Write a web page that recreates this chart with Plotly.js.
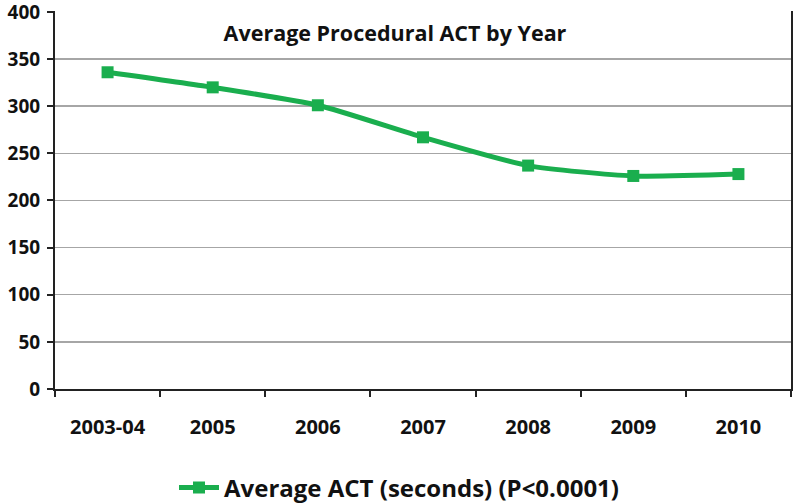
<!DOCTYPE html>
<html>
<head>
<meta charset="utf-8">
<script src="https://cdn.plot.ly/plotly-3.0.1.min.js"></script>
<style>html,body{margin:0;padding:0;background:#fff;}#chart{width:793px;height:503px;}</style>
</head>
<body>
<div id="chart"></div>
<script>
const years = ["2003-04", "2005", "2006", "2007", "2008", "2009", "2010"];
const actSeconds = [336, 320, 301, 267, 237, 226, 228];
const seriesName = "Average ACT (seconds) (P<0.0001)";
const chartTitle = "Average Procedural ACT by Year";
const yTicks = [0, 50, 100, 150, 200, 250, 300, 350, 400];

const green = "#1aae4e";
const trace = {
  x: years,
  y: actSeconds,
  name: seriesName,
  type: "scatter",
  mode: "lines+markers",
  line: {color: green, width: 5, shape: "spline", smoothing: 0.6},
  marker: {symbol: "square", size: 12, color: green},
  showlegend: true
};

const layout = {
  width: 793, height: 503,
  margin: {l: 55, r: 2, t: 11, b: 114},
  paper_bgcolor: "#fff", plot_bgcolor: "#fff",
  font: {family: "Open Sans, sans-serif", color: "#111"},
  title: {text: chartTitle, font: {size: 21.5, family: "Open Sans, sans-serif", color: "#111", weight: 700},
          x: 395/793, xanchor: "center", y: 1 - 33/503, yanchor: "middle", xref: "container", yref: "container"},
  xaxis: {
    type: "category", showgrid: false, showline: true, linecolor: "#222", linewidth: 2,
    ticks: "outside", tickson: "boundaries", ticklen: 6, tickwidth: 2, tickcolor: "#222",
    tickfont: {size: 20, weight: 700, color: "#111"}, ticklabelstandoff: 19,
    range: [-0.5, 6.5], fixedrange: true
  },
  yaxis: {
    range: [0, 401], tickvals: yTicks, showgrid: true, gridcolor: "#a6a6a6", gridwidth: 1.5,
    showline: true, linecolor: "#222", linewidth: 2, mirror: true, zeroline: false,
    ticks: "outside", ticklen: 6, tickwidth: 2, tickcolor: "#222", ticklabeloverflow: "allow",
    tickfont: {size: 19, weight: 700, color: "#111"}, ticklabelstandoff: 3, fixedrange: true
  },
  showlegend: true,
  legend: {orientation: "h", xref: "container", yref: "container", x: 399/793, xanchor: "center",
           y: (503-488)/503, yanchor: "middle", font: {size: 24, weight: 700, color: "#111"},
           itemwidth: 40, bgcolor: "rgba(0,0,0,0)"}
};

Plotly.newPlot("chart", [trace], layout, {displayModeBar: false, staticPlot: true});
</script>
</body>
</html>
